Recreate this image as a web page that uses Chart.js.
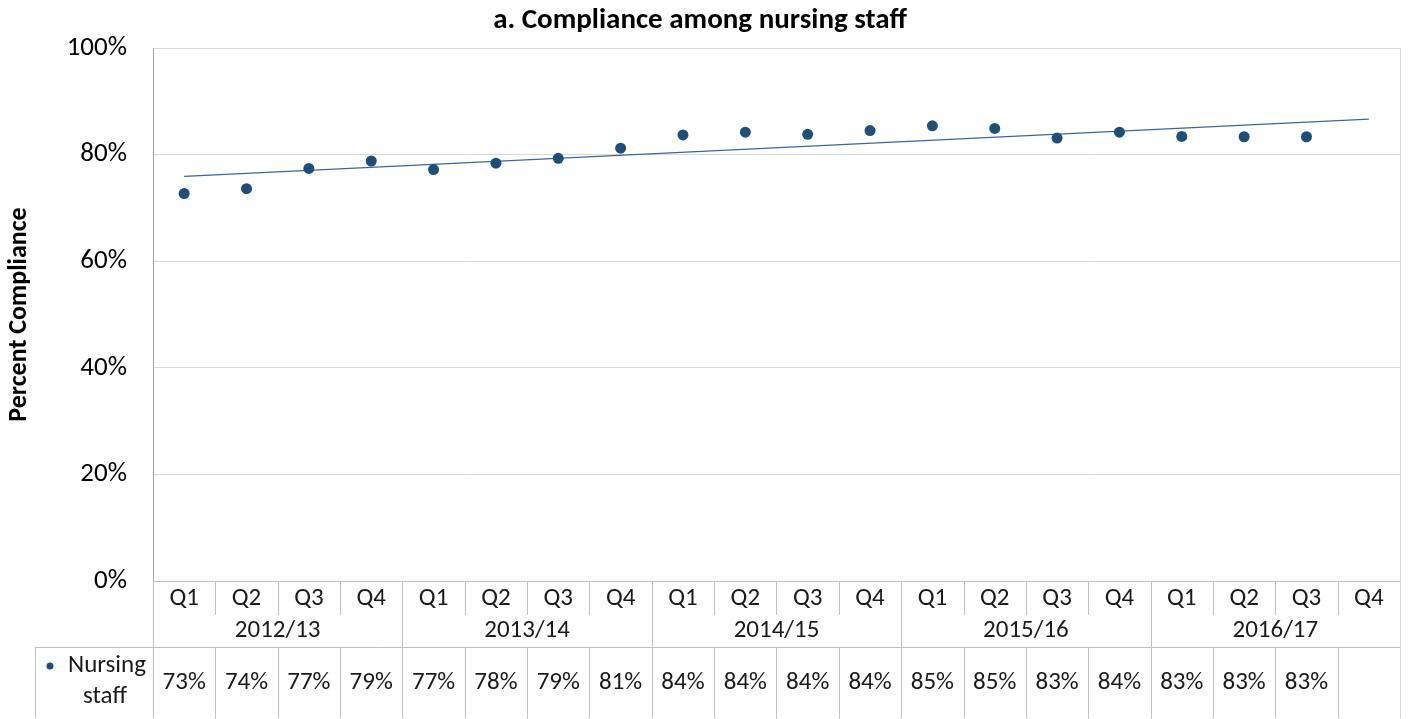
<!DOCTYPE html>
<html>
<head>
<meta charset="utf-8">
<title>Compliance among nursing staff</title>
<script src="https://cdn.jsdelivr.net/npm/chart.js@4.4.1/dist/chart.umd.min.js"></script>
<style>
  body { margin: 0; background: #fff; }
  canvas { display: block; }
</style>
</head>
<body>
<canvas id="chart" width="1411" height="719"></canvas>
<script>
// ---- data ----
const quarters = ['Q1', 'Q2', 'Q3', 'Q4', 'Q1', 'Q2', 'Q3', 'Q4', 'Q1', 'Q2', 'Q3', 'Q4',
                  'Q1', 'Q2', 'Q3', 'Q4', 'Q1', 'Q2', 'Q3', 'Q4'];
const years = ['2012/13', '2013/14', '2014/15', '2015/16', '2016/17'];
const nursing = [72.7, 73.6, 77.4, 78.8, 77.2, 78.4, 79.3, 81.2, 83.7, 84.2,
                 83.8, 84.5, 85.4, 84.9, 83.1, 84.2, 83.4, 83.35, 83.35, null];
const tableLabels = ['73%', '74%', '77%', '79%', '77%', '78%', '79%', '81%', '84%', '84%',
                     '84%', '84%', '85%', '85%', '83%', '84%', '83%', '83%', '83%', ''];
// linear trendline end points (first and last quarter)
const trendEnds = [75.9, 86.65];
const yTicks = [0, 20, 40, 60, 80, 100];

const FONT = 'Carlito, Lato, sans-serif';
const trend = quarters.map((q, i) => i === 0 ? trendEnds[0] : i === quarters.length - 1 ? trendEnds[1] : null);

// Draws the data table under the plot (quarters, years, values)
const dataTable = {
    id: 'dataTable',
    afterDraw(chart) {
        const ctx = chart.ctx;
        const xs = chart.scales.x;
        const area = chart.chartArea;
        const yb = area.bottom;
        const qBottom = yb + 34;
        const yrBottom = yb + 66;
        const tBottom = 718;
        const step = xs.getPixelForValue(1) - xs.getPixelForValue(0);
        const left = xs.getPixelForValue(0) - step / 2;
        const right = area.right;

        ctx.save();
        ctx.strokeStyle = '#bfbfbf';
        ctx.lineWidth = 1;
        ctx.beginPath();
        // category separators
        for (let i = 1; i < quarters.length; i++) {
            const bx = Math.round(left + i * step) + 0.5;
            if (i % 4 === 0) {
                ctx.moveTo(bx, yb); ctx.lineTo(bx, tBottom);
            } else {
                ctx.moveTo(bx, yb); ctx.lineTo(bx, qBottom);
                ctx.moveTo(bx, yrBottom); ctx.lineTo(bx, tBottom);
            }
        }
        // outer lines
        ctx.moveTo(Math.round(left) + 0.5, yb); ctx.lineTo(Math.round(left) + 0.5, tBottom);
        ctx.moveTo(35.5, yrBottom + 0.5); ctx.lineTo(right, yrBottom + 0.5);
        ctx.moveTo(35.5, yrBottom); ctx.lineTo(35.5, tBottom);
        ctx.stroke();

        // right border of plot + table
        ctx.strokeStyle = '#d9d9d9';
        ctx.beginPath();
        ctx.moveTo(Math.round(right) + 0.5, area.top); ctx.lineTo(Math.round(right) + 0.5, tBottom);
        ctx.stroke();

        ctx.fillStyle = '#1a1a1a';
        ctx.textAlign = 'center';
        ctx.textBaseline = 'middle';
        ctx.font = '25px ' + FONT;
        quarters.forEach((q, i) => {
            const cx = xs.getPixelForValue(i);
            ctx.fillText(q, cx, yb + 18);
            ctx.fillText(tableLabels[i], cx, 683);
        });
        years.forEach((yr, k) => {
            const cx = left + (k * 4 + 2) * step;
            ctx.fillText(yr, cx, yb + 50);
        });

        // series label with marker
        ctx.fillText('Nursing', 107, 666);
        ctx.fillText('staff', 105, 697);
        ctx.fillStyle = '#1f4e79';
        ctx.beginPath();
        ctx.arc(50, 666, 3.5, 0, Math.PI * 2);
        ctx.fill();
        ctx.restore();
    }
};

new Chart(document.getElementById('chart'), {
    type: 'line',
    data: {
        labels: quarters,
        datasets: [
            {
                label: 'Nursing staff',
                data: nursing,
                showLine: false,
                pointRadius: 5.5,
                pointHoverRadius: 5.5,
                pointBackgroundColor: '#1f4e79',
                pointBorderColor: '#1f4e79',
                pointBorderWidth: 0
            },
            {
                label: 'Trend',
                data: trend,
                spanGaps: true,
                borderColor: '#3a65a0',
                borderWidth: 1.3,
                pointRadius: 0,
                fill: false
            }
        ]
    },
    options: {
        responsive: false,
        animation: false,
        layout: { padding: { top: 0, right: 11, bottom: 0, left: 0 } },
        plugins: {
            legend: { display: false },
            tooltip: { enabled: false },
            title: {
                display: true,
                text: 'a. Compliance among nursing staff',
                color: '#000',
                font: { family: FONT, size: 29, weight: 'bold' },
                padding: { top: 3, bottom: 10.2 }
            }
        },
        scales: {
            x: {
                type: 'category',
                offset: true,
                grid: { display: false },
                border: { color: '#bfbfbf' },
                ticks: { display: false },
                afterFit(s) { s.height = 138; }
            },
            y: {
                min: 0,
                max: 100,
                afterBuildTicks(s) { s.ticks = yTicks.map(v => ({ value: v })); },
                ticks: {
                    callback: v => v + '%',
                    color: '#000',
                    padding: 26,
                    font: { family: FONT, size: 27 }
                },
                grid: { color: '#d9d9d9', drawTicks: false },
                border: { color: '#a6a6a6' },
                title: {
                    display: true,
                    text: 'Percent Compliance',
                    color: '#000',
                    font: { family: FONT, size: 26, weight: 'bold' },
                    padding: { top: 4, bottom: 0 }
                },
                afterFit(s) { s.width = 153; }
            }
        }
    },
    plugins: [dataTable]
});
</script>
</body>
</html>
